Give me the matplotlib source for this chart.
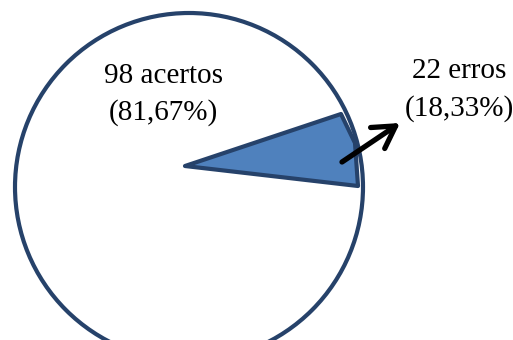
import matplotlib
matplotlib.use("Agg")
import matplotlib.pyplot as plt
from matplotlib.patches import Circle, Polygon

# dados
categorias = ["acertos", "erros"]
valores = [98, 22]
total = sum(valores)
percent = [100.0 * v / total for v in valores]

def fmt(p):
    return ("%.2f" % p).replace(".", ",") + "%"

fig = plt.figure(figsize=(5.13, 3.40), dpi=100)
ax = fig.add_axes([0, 0, 1, 1])
ax.set_xlim(0, 513)
ax.set_ylim(340, 0)
ax.set_aspect("equal")
ax.axis("off")

azul_escuro = "#26426a"
azul = "#4f81bd"

# circulo (fatia dos acertos)
circ = Circle((189, 187), 174, facecolor="white", edgecolor=azul_escuro, lw=3)
ax.add_patch(circ)

# fatia dos erros (desenho esquematico)
fatia = Polygon([(185, 166), (341, 114), (355, 143), (358, 186)], closed=True,
                facecolor=azul, edgecolor=azul_escuro, lw=3, joinstyle="round")
ax.add_patch(fatia)

fonte = "Liberation Serif"
tam = 21
ax.text(163, 76, "%d %s" % (valores[0], categorias[0]), ha="center", va="center",
        fontsize=tam, family=fonte)
ax.text(163, 113, "(%s)" % fmt(percent[0]), ha="center", va="center",
        fontsize=tam, family=fonte)
ax.text(412, 71, "%d %s" % (valores[1], categorias[1]), ha="left", va="center",
        fontsize=tam, family=fonte, clip_on=False)
ax.text(405, 109, "(%s)" % fmt(percent[1]), ha="left", va="center",
        fontsize=tam, family=fonte, clip_on=False)

# seta
ax.annotate("", xy=(400, 123), xytext=(342, 162),
            arrowprops=dict(arrowstyle="->,head_length=0.6,head_width=0.35",
                            lw=3.8, color="black",
                            mutation_scale=26, shrinkA=0, shrinkB=0))

plt.savefig("out.png", dpi=100)
